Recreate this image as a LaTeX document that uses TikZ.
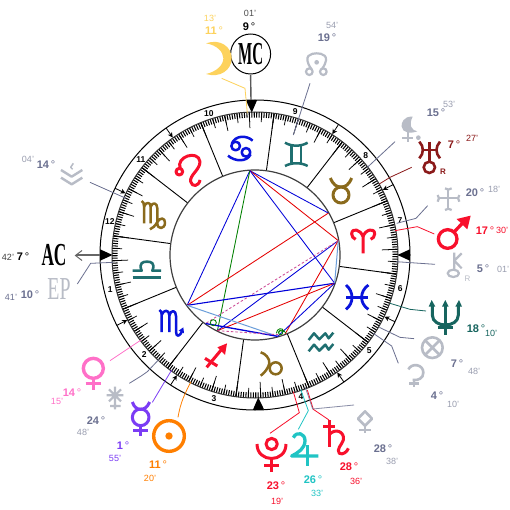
\documentclass[tikz,border=0pt]{standalone}
\usepackage{fontspec}
\usepackage{graphicx}
\setmainfont{Liberation Sans}
\newfontfamily\capsfont{Liberation Serif}
\usetikzlibrary{arrows.meta}
\definecolor{slate}{HTML}{6B7090}
\definecolor{slatelt}{HTML}{9A9EB0}
\definecolor{gly}{HTML}{B8BCC6}
\definecolor{signblue}{HTML}{0A14DC}
\definecolor{signred}{HTML}{F8102C}
\definecolor{signteal}{HTML}{1F6F70}
\definecolor{signbrown}{HTML}{8A6A1C}
\definecolor{moonc}{HTML}{FDD25C}
\definecolor{uranc}{HTML}{8B1A1A}
\definecolor{neptc}{HTML}{17655F}
\definecolor{jupc}{HTML}{20C4C4}
\definecolor{venc}{HTML}{FF70C8}
\definecolor{merc}{HTML}{7B3CF5}
\definecolor{sunc}{HTML}{FF7F00}
\tikzset{
  zm/.style 2 args={x=0.33333pt,y=-0.33333pt,shift={(#1pt,-#2pt)}},
  degl/.style={inner sep=0pt,font=\fontsize{11}{11}\selectfont\bfseries},
  minl/.style={inner sep=0pt,font=\fontsize{9}{9}\selectfont},
  housen/.style={inner sep=0pt,font=\fontsize{8.5}{8.5}\selectfont\bfseries},
  ptr/.style={line width=0.8pt},
  asp/.style={line width=0.85pt},
  sgn/.style={line width=2.5pt,line cap=butt,line join=round},
  pl/.style={line width=3pt,line cap=butt,line join=round},
  glg/.style={line width=2.2pt,draw=gly,line cap=butt,line join=round},
}
\newcommand{\dg}[1]{#1{\mdseries\,°}}
\begin{document}
\begin{tikzpicture}[x=1pt,y=-1pt,
  declare function={px(\a,\r)=255+\r*cos(\a);py(\a,\r)=255-\r*sin(\a);}]
\useasboundingbox[fill=white] (0,0) rectangle (510,510);
% ticks
\foreach \l in {0,...,359}
  \draw[line width=1.05pt] ({px(\l-7.7,143)},{py(\l-7.7,143)}) -- ({px(\l-7.7,137.5)},{py(\l-7.7,137.5)});
\foreach \l in {0,5,...,355}
  \draw[line width=0.75pt] ({px(\l-7.7,143)},{py(\l-7.7,143)}) -- ({px(\l-7.7,133)},{py(\l-7.7,133)});
\foreach \l in {0,10,...,350}
  \draw[line width=0.75pt] ({px(\l-7.7,143)},{py(\l-7.7,143)}) -- ({px(\l-7.7,127)},{py(\l-7.7,127)});
\foreach \l in {0,30,...,330}
  \draw[line width=0.9pt] ({px(\l-7.7,143)},{py(\l-7.7,143)}) -- ({px(\l-7.7,85)},{py(\l-7.7,85)});
\draw[line width=1pt] (255,255) circle[radius=155];
\draw[line width=1pt,draw=black!80] (255,255) circle[radius=143];
\draw[line width=1.2pt,fill=white,draw=black!75] (255,255) circle[radius=85];
% house numbers
\foreach \a/\n in {193.5/1,222/2,254/3,288/4,320/5,347/6,13.5/7,42/8,74.3/9,108/10,140/11,167/12}
  \node[housen] (h\n) at ({px(\a,149)},{py(\a,149)}) {\n};
% house arrows
\foreach \a in {27,57.4,125,154.5,207,237,305,334.5}
  \draw[line width=0.8pt,-{Stealth[length=5pt,width=5pt]}] ({px(\a,155)},{py(\a,155)}) -- ({px(\a,143.5)},{py(\a,143.5)});
% angle triangles
\foreach \a in {0,91.3,180,271.3}
  \fill ({px(\a-2.1,155)},{py(\a-2.1,155)}) -- ({px(\a+2.1,155)},{py(\a+2.1,155)}) -- ({px(\a,142.5)},{py(\a,142.5)}) -- cycle;
% aspects
\foreach \nm/\a in {moon/93.5,sun/243.6,merc/234.2,ven/216.55,mars/9.8,jup/288.85,sat/290.9,ura/29.75,nep/340.5,plu/285.6}
  \coordinate (\nm) at ({px(\a,84.5)},{py(\a,84.5)});
\draw[asp,draw=blue!85!black] (moon) -- (ven);
\draw[asp,draw=green!50!black] (moon) -- (sun);
\draw[asp,draw=blue!85!black] (moon) -- (ura);
\draw[asp,draw=red!90!black] (moon) -- (mars);
\draw[asp,draw=blue!85!black] (moon) -- (nep);
\draw[asp,draw=red!90!black] (ura) -- (ven);
\draw[asp,draw=blue!85!black] (mars) -- (sun);
\draw[asp,draw=magenta!65!gray,dashed,dash pattern=on 2.5pt off 2pt] (mars) -- (merc);
\draw[asp,draw=red!90!black] (mars) -- (sat);
\draw[asp,draw=blue!85!black,line width=1.1pt] (nep) -- (ven);
\draw[asp,draw=red!90!black] (nep) -- (sun);
\draw[asp,draw=blue!85!black] (nep) -- (plu);
\draw[asp,draw=cyan!55!blue!60,line width=1pt] (mars) -- (nep);
\draw[asp,draw=cyan!55!blue!60,line width=1pt] (ven) -- (plu);
\draw[asp,draw=blue!85!black,line width=1.3pt] (merc) -- (plu);
\draw[asp,draw=magenta!65!gray,dashed,dash pattern=on 2.5pt off 2pt] (sun) -- (jup);
\begin{scope}[zm={160}{160}]
\draw[asp,draw=green!50!black] (160,488) circle[radius=9];
\draw[asp,draw=green!50!black] (349,520) .. controls (350,505) and (368,500) .. (372,515);
\draw[asp,draw=green!50!black] (355,520) .. controls (356,510) and (366,505) .. (377,518);
\draw[asp,draw=green!50!black] (362,518) circle[radius=6];
\end{scope}
% MC and AC
\draw[line width=1.4pt,draw=black!65] (250.6,75) -- (251,100);
\draw[line width=1pt,fill=white] (250.6,54) circle[radius=20];
\node[inner sep=0pt] (mc) at (250.6,54) {\capsfont\bfseries\fontsize{32}{32}\selectfont\scalebox{.47}[1]{MC}};
\draw[line width=1.5pt,draw=black!60] (76,255) -- (100,255);
\draw[line width=1pt,draw=black!60] (82,250.5) -- (75.5,255.5) -- (82,260.5);
\node[inner sep=0pt] (ac) at (54,255) {\capsfont\bfseries\fontsize{32}{32}\selectfont\scalebox{.54}[1]{AC}};
\node[inner sep=0pt,text=gly] (ep) at (59,289) {\capsfont\fontsize{32}{32}\selectfont\scalebox{.62}[1]{EP}};
% ---- zoom 1 region (170,0)
\begin{scope}[zm={170}{0}]
\draw[ptr,draw=moonc] (232,340) -- (225,265) -- (155,235);
\draw[ptr,draw=slate] (370,405) -- (420,250);
\fill[moonc] (108,130) .. controls (150,115) and (185,140) .. (185,175) .. controls (185,210) and (150,235) .. (108,222) .. controls (140,215) and (160,195) .. (160,175) .. controls (160,155) and (140,135) .. (108,130) -- cycle;
\draw[glg] (424,207) .. controls (395,165) and (425,160) .. (440,160) .. controls (455,160) and (485,165) .. (456,207);
\draw[glg] (418,215) circle[radius=10];
\draw[glg] (460,215) circle[radius=10];
\fill[gly] (440,187) circle[radius=7];
\end{scope}
\node[minl,text=moonc] (t1) at (210,18) {13'};
\node[degl,text=moonc] (t2) at (214,31) {\dg{11}};
\node[minl,text=black!70] (t3) at (250,13) {01'};
\node[degl] (t4) at (249,27) {\dg{9}};
\node[minl,text=slatelt] (t5) at (332,25) {54'};
\node[degl,text=slate] (t6) at (327,38) {\dg{19}};
% ---- zoom 2 region (340,90)
\begin{scope}[zm={340}{90}]
\draw[ptr,draw=slate] (82,232) -- (165,155);
\draw[ptr,draw=uranc] (118,282) -- (150,262) -- (215,232);
\draw[ptr,draw=slate] (170,400) -- (228,385) -- (263,347);
\draw[ptr,draw=signred] (165,422) -- (232,410) -- (283,432);
% lilith
\fill[gly] (218,80) .. controls (190,78) and (183,100) .. (185,110) .. controls (187,128) and (210,132) .. (232,124) .. controls (215,122) and (205,105) .. (218,80) -- cycle;
\draw[glg] (203,125) -- (203,155) (187,145) -- (220,145);
\fill[gly] (235,143) circle[radius=7];
% uranus
\draw[line width=2.6pt,draw=uranc] (238,155) .. controls (252,170) and (252,190) .. (238,205);
\draw[line width=2.6pt,draw=uranc] (300,155) .. controls (286,170) and (286,190) .. (300,205);
\draw[line width=2.6pt,draw=uranc] (245,180) -- (293,180) (268,155) -- (268,216);
\draw[line width=2.6pt,draw=uranc] (268,232) circle[radius=17];
% pallas like cross
\draw[glg] (325,297) -- (325,358) (295,325) -- (356,325);
\draw[glg] (315,295) .. controls (322,300) and (328,300) .. (335,295);
\draw[glg] (315,360) .. controls (322,355) and (328,355) .. (335,360);
\draw[glg] (293,315) .. controls (298,322) and (298,328) .. (293,335);
\draw[glg] (358,315) .. controls (353,322) and (353,328) .. (358,335);
% mars
\draw[line width=3.3pt,draw=signred] (323,447) circle[radius=28];
\draw[line width=3.3pt,draw=signred] (343,425) -- (372,395);
\fill[signred] (392,377) -- (350,387) -- (382,418) -- cycle;
% aries
\draw[sgn,line width=3pt,draw=signred] (69,490) -- (69,440) .. controls (62,418) and (35,412) .. (35,432) .. controls (35,440) and (40,445) .. (47,448);
\draw[sgn,line width=3pt,draw=signred] (69,440) .. controls (76,418) and (104,412) .. (104,432) .. controls (104,440) and (99,445) .. (92,448);
\end{scope}
\node[degl,text=slate] (t7) at (436,113) {\dg{15}};
\node[minl,text=slatelt] (t8) at (449,104) {53'};
\node[degl,text=uranc] (t9) at (454,145) {\dg{7}};
\node[minl,text=uranc] (t10) at (472,138) {27'};
\node[inner sep=0pt,text=uranc,font=\fontsize{8}{8}\selectfont\bfseries] (r1) at (443,172) {R};
\node[degl,text=slate] (t11) at (475,193) {\dg{20}};
\node[minl,text=slatelt] (t12) at (494,189) {18'};
\node[degl,text=signred] (t13) at (485,231) {\dg{17}};
\node[minl,text=signred] (t14) at (502,230) {30'};
% ---- zoom 3 region (340,240)
\begin{scope}[zm={340}{240}]
\draw[ptr,draw=slate] (168,65) -- (285,73);
\draw[ptr,draw=neptc] (150,190) -- (210,208) -- (258,213);
\draw[ptr,draw=slate] (118,262) -- (180,292) -- (222,296);
\draw[ptr,draw=slate] (100,280) -- (155,318) -- (175,370);
% chiron
\draw[glg] (343,38) -- (343,88) (343,62) -- (365,40) (343,62) -- (365,85);
\draw[glg] (340,100) ellipse[x radius=17,y radius=11];
% neptune
\draw[line width=3pt,draw=neptc] (277,195) -- (277,225) .. controls (277,265) and (355,265) .. (355,225) -- (355,195);
\draw[line width=3pt,draw=neptc] (316,190) -- (316,284) (293,263) -- (340,263);
\fill[neptc] (275,180) -- (266,200) -- (286,200) -- cycle;
\fill[neptc] (316,180) -- (306,200) -- (326,200) -- cycle;
\fill[neptc] (357,180) -- (346,200) -- (366,200) -- cycle;
% fortune
\draw[glg,line width=2.6pt] (277,323) circle[radius=31];
\draw[glg,line width=2.6pt] (255,301) -- (299,345) (299,301) -- (255,345);
% juno
\draw[glg,line width=2.6pt] (205,388) .. controls (215,368) and (250,372) .. (250,398) .. controls (250,415) and (235,422) .. (218,420);
\draw[glg,line width=2.6pt] (222,418) -- (222,442) (208,430) -- (238,430);
% pisces
\draw[sgn,line width=2.8pt,draw=signblue] (18,135) .. controls (42,155) and (42,190) .. (18,208);
\draw[sgn,line width=2.8pt,draw=signblue] (85,135) .. controls (58,155) and (58,190) .. (85,208);
\draw[sgn,line width=2.8pt,draw=signblue] (18,172) -- (85,172);
\end{scope}
\node[inner sep=0pt,text=gly,font=\fontsize{8}{8}\selectfont] (r2) at (467.5,278.5) {R};
\node[degl,text=slate] (t15) at (483,269) {\dg{5}};
\node[minl,text=slatelt] (t16) at (503,269) {01'};
\node[degl,text=neptc] (t17) at (476,329) {\dg{18}};
\node[minl,text=neptc] (t18) at (491,333) {10'};
\node[degl,text=slate] (t19) at (457,364) {\dg{7}};
\node[minl,text=slatelt] (t20) at (474,371) {48'};
\node[degl,text=slate] (t21) at (437,396) {\dg{4}};
\node[minl,text=slatelt] (t22) at (453,404) {10'};
% ---- zoom 4 region (230,370)
\begin{scope}[zm={230}{370}]
\draw[ptr,draw=signred] (190,65) -- (208,128) -- (120,190);
\draw[ptr,draw=jupc] (212,58) -- (235,122) -- (205,178);
\draw[ptr,draw=signred] (232,60) -- (250,118) -- (297,150);
\draw[ptr,draw=slate,draw opacity=.8] (226,52) -- (248,117) -- (372,105);
% diamond
\draw[glg,line width=2.6pt] (405,124) -- (426,146) -- (405,167) -- (384,146) -- cycle;
\draw[glg,line width=2.6pt] (405,167) -- (405,190) (388,180) -- (422,180);
% pluto
\draw[pl,draw=signred] (81,222) .. controls (81,280) and (168,280) .. (168,222);
\draw[pl,draw=signred] (125,222) circle[radius=17];
\draw[pl,draw=signred] (125,262) -- (125,305) (103,285) -- (147,285);
% jupiter
\draw[pl,line width=3.3pt,draw=jupc] (190,203) .. controls (200,182) and (225,190) .. (225,212) .. controls (225,235) and (205,248) .. (185,258) -- (265,258);
\draw[pl,line width=3.3pt,draw=jupc] (233,226) -- (233,288);
% saturn
\draw[pl,draw=signred] (297,150) -- (297,232) (280,168) -- (315,168);
\draw[pl,draw=signred] (297,195) .. controls (315,172) and (345,185) .. (340,210) .. controls (335,225) and (318,238) .. (328,250) .. controls (338,256) and (352,245) .. (355,235);
\end{scope}
\node[degl,text=slate] (t23) at (383,449) {\dg{28}};
\node[minl,text=slatelt] (t24) at (392,461) {38'};
\node[degl,text=signred] (t25) at (349,467) {\dg{28}};
\node[minl,text=signred] (t26) at (356,481) {36'};
\node[degl,text=jupc] (t27) at (313,480) {\dg{26}};
\node[minl,text=jupc] (t28) at (317,493) {33'};
\node[degl,text=signred] (t29) at (276,486) {\dg{23}};
\node[minl,text=signred] (t30) at (277,501) {19'};
% ---- zoom 5 region (60,330)
\begin{scope}[zm={60}{330}]
\draw[ptr,draw=venc] (243,30) -- (150,92);
\draw[ptr,draw=slate] (297,88) -- (262,125) -- (245,137) -- (208,160);
\draw[ptr,draw=merc] (335,120) -- (305,170) -- (277,217);
\draw[ptr,draw=sunc] (393,155) .. controls (375,190) and (362,215) .. (354,262);
% venus
\draw[pl,line width=3.4pt,draw=venc] (100,115) circle[radius=30];
\draw[pl,line width=3.4pt,draw=venc] (100,148) -- (100,180) (77,160) -- (122,160);
% ceres
\draw[glg] (165,170) -- (165,238) (140,196) -- (190,196) (147,178) -- (183,214) (183,178) -- (147,214) (150,228) -- (182,228);
% mercury
\draw[pl,line width=3pt,draw=merc] (242,262) circle[radius=25];
\draw[pl,line width=3pt,draw=merc] (217,216) .. controls (222,232) and (232,238) .. (242,238) .. controls (252,238) and (262,232) .. (269,216);
\draw[pl,line width=3pt,draw=merc] (242,288) -- (242,318) (220,302) -- (265,302);
% sun
\draw[pl,line width=3.4pt,draw=sunc] (327,318) circle[radius=46];
\fill[sunc] (327,318) circle[radius=11];
\end{scope}
\node[degl,text=venc] (t31) at (72,393) {\dg{14}};
\node[minl,text=venc] (t32) at (57,401) {15'};
\node[degl,text=slate] (t33) at (96,421) {\dg{24}};
\node[minl,text=slatelt] (t34) at (83,432) {48'};
\node[degl,text=merc] (t35) at (123,446) {\dg{1}};
\node[minl,text=merc] (t36) at (115,458) {55'};
\node[degl,text=sunc] (t37) at (158,465) {\dg{11}};
\node[minl,text=sunc] (t38) at (150,478) {20'};
% ---- zoom 6 region (0,140)
\begin{scope}[zm={0}{140}]
\draw[ptr,draw=slate] (378,175) -- (270,127);
\draw[ptr,draw=slate] (340,367) -- (272,370) -- (232,432);
% vesta
\draw[glg,line width=2.4pt] (183,90) -- (215,110) -- (247,90) (183,113) -- (215,133) -- (247,113);
\draw[glg,line width=1.5pt] (220,70) -- (212,82) -- (218,88);
% libra
\draw[sgn,draw=signteal,line width=2.6pt] (398,392) -- (425,392) .. controls (415,368) and (430,365) .. (441,365) .. controls (452,365) and (467,368) .. (457,392) -- (483,392);
\draw[sgn,draw=signteal,line width=2.6pt] (398,412) -- (483,412);
% virgo
\draw[sgn,draw=signbrown] (425,183) .. controls (430,185) and (432,190) .. (432,198) -- (432,250);
\draw[sgn,draw=signbrown] (432,200) .. controls (437,185) and (452,185) .. (452,200) -- (452,250);
\draw[sgn,draw=signbrown] (452,200) .. controls (457,185) and (472,188) .. (472,205) -- (472,250) .. controls (472,270) and (495,268) .. (495,248) .. controls (495,232) and (480,232) .. (472,246) .. controls (465,258) and (458,265) .. (450,268);
\end{scope}
\node[minl,text=slatelt] (t39) at (28,159) {04'};
\node[degl,text=slate] (t40) at (46,165) {\dg{14}};
\node[minl,text=black!75] (t41) at (8,257) {42'};
\node[degl] (t42) at (23,257) {\dg{7}};
\node[minl,text=slate] (t43) at (11,297) {41'};
\node[degl,text=slate] (t44) at (30,295) {\dg{10}};
% ---- zoom 8 region (120,90): cancer, leo
\begin{scope}[zm={120}{90}]
\draw[sgn,draw=signblue] (347,168) circle[radius=13];
\draw[sgn,draw=signblue] (378,187) circle[radius=13];
\draw[sgn,draw=signblue] (335,162) .. controls (345,135) and (380,135) .. (398,152);
\draw[sgn,draw=signblue] (392,193) .. controls (380,217) and (345,215) .. (324,197);
\draw[sgn,line width=3pt,draw=signred] (178,245) circle[radius=10];
\draw[sgn,line width=3pt,draw=signred] (181,236) .. controls (165,200) and (235,178) .. (240,215) .. controls (240,240) and (208,255) .. (212,275) .. controls (216,292) and (236,290) .. (240,270);
\end{scope}
% ---- zoom 9 region (270,100): gemini, taurus
\begin{scope}[zm={270}{100}]
\draw[sgn,draw=signteal] (45,128) .. controls (65,140) and (93,140) .. (113,128);
\draw[sgn,draw=signteal] (45,198) .. controls (65,187) and (93,187) .. (113,198);
\draw[sgn,draw=signteal] (65,136) -- (65,190) (93,136) -- (93,190);
\draw[sgn,line width=3pt,draw=signbrown] (213,285) circle[radius=24];
\draw[sgn,line width=3pt,draw=signbrown] (181,234) .. controls (190,255) and (200,261) .. (213,261) .. controls (226,261) and (236,255) .. (245,234);
\end{scope}
% ---- zoom 10 region (120,290): scorpio, sagittarius
\begin{scope}[zm={120}{290}]
\draw[sgn,draw=signblue] (118,60) .. controls (122,62) and (125,66) .. (125,72) -- (125,126);
\draw[sgn,draw=signblue] (125,75) .. controls (130,58) and (148,58) .. (148,76) -- (148,126);
\draw[sgn,draw=signblue] (148,76) .. controls (153,58) and (168,60) .. (168,78) -- (168,125) .. controls (168,142) and (180,142) .. (187,120);
\fill[signblue] (190,112) -- (176,122) -- (192,130) -- cycle;
\draw[pl,draw=signred] (260,232) -- (305,178) (255,205) -- (292,228);
\fill[signred] (321,160) -- (292,172) -- (315,195) -- cycle;
\end{scope}
% ---- zoom 11 region (260,280): aquarius, capricorn
\begin{scope}[zm={260}{280}]
\draw[sgn,draw=signteal] (146,180) -- (162,160) -- (178,178) -- (196,160) -- (206,175) -- (220,158);
\draw[sgn,draw=signteal] (146,214) -- (162,194) -- (178,212) -- (196,194) -- (206,209) -- (220,192);
\draw[sgn,draw=signbrown] (2,217) .. controls (15,220) and (30,235) .. (28,250) .. controls (25,265) and (12,280) .. (2,287);
\draw[sgn,draw=signbrown] (47,265) circle[radius=18];
\end{scope}
\end{tikzpicture}
\end{document}
